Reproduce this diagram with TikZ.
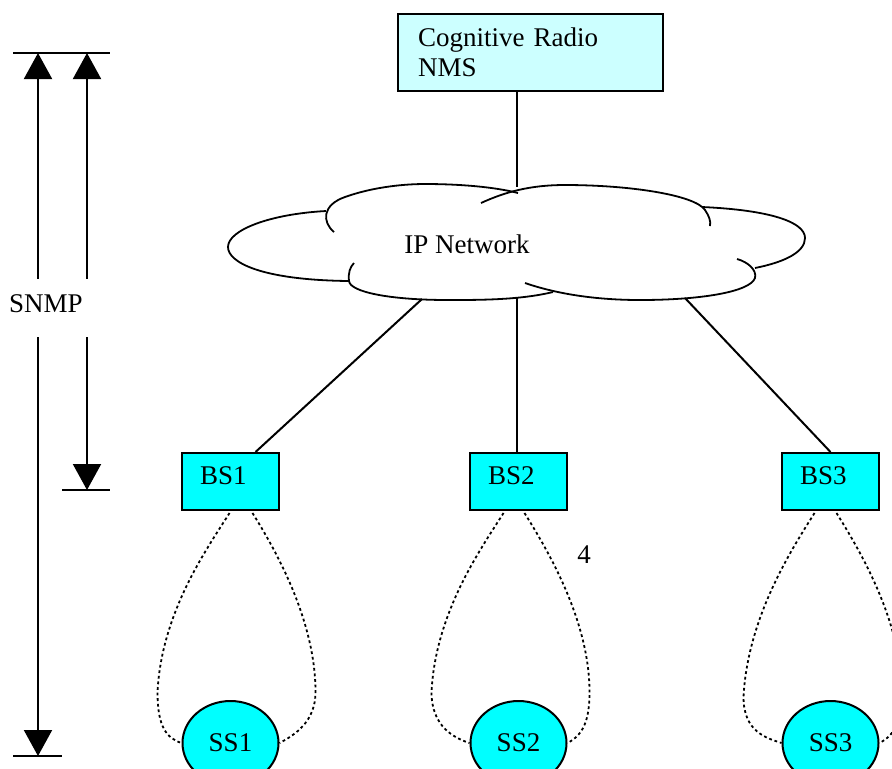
\documentclass[tikz,border=0pt]{standalone}
\usepackage{fontspec}
\setmainfont{Liberation Serif}
\usetikzlibrary{arrows.meta,positioning,shapes.geometric,calc}
\definecolor{NmsCyan}{HTML}{CCFFFF}
\definecolor{BsCyan}{HTML}{00FFFF}

\begin{document}
\begin{tikzpicture}[
x=0.5pt, y=-0.5pt,
every node/.style={font=\fontsize{13.5}{15}\selectfont},
nmsbox/.style={draw, line width=1pt, fill=NmsCyan, anchor=north west, text width=112.5pt, inner xsep=10pt, inner ysep=0pt, align=left, text height=16pt, text depth=22.5pt},
bsbox/.style={draw, line width=1pt, fill=BsCyan, anchor=north west, text width=30.5pt, inner xsep=9pt, inner ysep=0pt, align=left, text height=15.5pt, text depth=13pt},
ssnode/.style={draw, ellipse, line width=1pt, fill=BsCyan, minimum width=48pt, minimum height=42pt, inner sep=0pt},
link/.style={line width=1pt},
cloudline/.style={line width=0.9pt},
radio/.style={line width=0.9pt, dash pattern=on 1.4pt off 1.4pt},
bar/.style={line width=1pt},
sig/.style={-{Triangle[length=13pt, width=14pt]}, line width=1pt}
]
\useasboundingbox (0,0) rectangle (892,768);
\clip (0,0) rectangle (892,768);
% cloud
\draw[cloudline] (349,281) .. controls (260,280) and (228,262) .. (228,247) .. controls (228,230) and (270,214) .. (326,211);
\draw[cloudline] (334,232) .. controls (322,222) and (322,205) .. (345,197) .. controls (370,188) and (400,184) .. (425,184) .. controls (460,184) and (495,187) .. (518,193);
\draw[cloudline] (481,203) .. controls (505,192) and (530,185) .. (565,185) .. controls (630,185) and (695,195) .. (705,210) .. controls (709,216) and (711,221) .. (710,226);
\draw[cloudline] (702,207) .. controls (770,210) and (805,222) .. (805,238) .. controls (805,252) and (785,262) .. (755,268);
\draw[cloudline] (525,283) .. controls (560,295) and (600,300) .. (640,300) .. controls (700,300) and (750,292) .. (755,278) .. controls (757,270) and (748,262) .. (737,259);
\draw[cloudline] (553,292) .. controls (520,300) and (480,300) .. (448,300) .. controls (390,300) and (350,292) .. (349,281) .. controls (348,273) and (350,267) .. (354,263);
\node (ip) at (467,244) {IP Network};
\coordinate (ipN) at (517,187);
\coordinate (ipSW) at (422,299);
\coordinate (ipS) at (517,298);
\coordinate (ipSE) at (685,298);
% boxes
\node[nmsbox] (nms) at (397,13) {Cognitive Radio\\NMS};
\node[bsbox] (bs1) at (181,452) {BS1};
\node[bsbox] (bs2) at (469,452) {BS2};
\node[bsbox] (bs3) at (781,452) {BS3};
\node[ssnode, below=94.5pt of bs1] (ss1) {SS1};
\node[ssnode, below=94.5pt of bs2] (ss2) {SS2};
\node[ssnode, below=94.5pt of bs3] (ss3) {SS3};
\node (four) at (584,555) {4};
\draw[link] (nms.south -| ipN) -- (ipN);
\draw[link] (ipSW) -- ([xshift=12.5pt]bs1.north);
\draw[link] (ipS) -- (bs2.north -| ipS);
\draw[link] (ipSE) -- (bs3.north);
% radio links
\draw[radio] ($(bs1.south)+(-1,2)$) .. controls +(-22,35) and +(4,-80) .. ($(bs1.south)+(-73,181)$) .. controls +(0,35) and +(-15,-5) .. (ss1.west);
\draw[radio] ($(bs1.south)+(22,2)$) .. controls +(25,40) and +(0,-70) .. ($(bs1.south)+(85,181)$) .. controls +(0,30) and +(15,-8) .. (ss1.east);
\draw[radio] ($(bs2.south)+(-15,2)$) .. controls +(-22,35) and +(4,-80) .. ($(bs2.south)+(-87,181)$) .. controls +(0,35) and +(-15,-5) .. (ss2.west);
\draw[radio] ($(bs2.south)+(6,2)$) .. controls +(25,40) and +(0,-70) .. ($(bs2.south)+(71,181)$) .. controls +(0,30) and +(15,-8) .. (ss2.east);
\draw[radio] ($(bs3.south)+(-16,2)$) .. controls +(-22,35) and +(4,-80) .. ($(bs3.south)+(-87,186)$) .. controls +(0,35) and +(-15,-5) .. (ss3.west);
\draw[radio] ($(bs3.south)+(6,2)$) .. controls +(25,40) and +(0,-70) .. ($(bs3.south)+(71,181)$) .. controls +(0,30) and +(15,-8) .. (ss3.east);
% SNMP
\node[text height=16.5pt, text depth=12.5pt, inner ysep=0pt, inner xsep=0pt] (snmp) at (46,308) {SNMP};
\coordinate (topL) at (13,53);
\coordinate (topR) at (110,53);
\coordinate (midL) at (62,490);
\coordinate (midR) at (110,490);
\coordinate (botL) at (13,756);
\coordinate (botR) at (62,756);
\coordinate (upA) at (38,53);
\coordinate (upB) at (87,53);
\coordinate (downA) at (38,756);
\coordinate (downB) at (87,490);
\draw[bar] (topL) -- (topR);
\draw[bar] (midL) -- (midR);
\draw[bar] (botL) -- (botR);
\draw[sig] (snmp.north -| upA) -- (upA);
\draw[sig] (snmp.north -| upB) -- (upB);
\draw[sig] (snmp.south -| downA) -- (downA);
\draw[sig] (snmp.south -| downB) -- (downB);
\end{tikzpicture}
\end{document}
